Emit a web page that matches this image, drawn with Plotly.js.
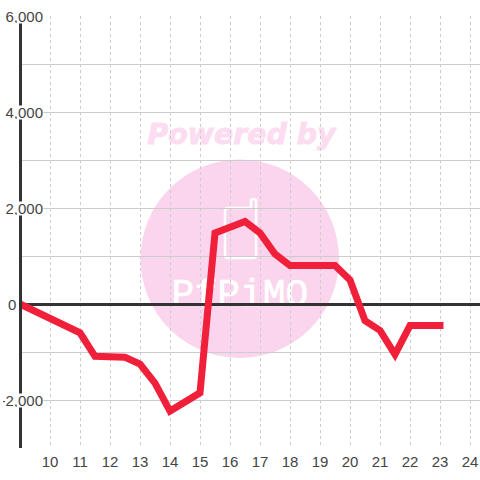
<!DOCTYPE html>
<html>
<head>
<meta charset="utf-8">
<script src="https://cdn.plot.ly/plotly-3.0.1.min.js"></script>
<style>
html,body{margin:0;padding:0;background:#fff;}
#chart{width:480px;height:480px;}
.js-line{stroke-linejoin:miter !important;stroke-linecap:square !important;stroke-miterlimit:3 !important;}
</style>
</head>
<body>
<div id="chart"></div>
<script>
var hours = [9,9.5,10,10.5,11,11.5,12,12.5,13,13.5,14,14.5,15,15.5,16,16.5,17,17.5,18,18.5,19,19.5,20,20.5,21,21.5,22,22.5,23];
var values = [0,-150,-300,-450,-600,-1090,-1110,-1110,-1250,-1650,-2230,-2050,-1850,1480,1600,1720,1480,1040,800,800,800,800,500,-350,-550,-1050,-450,-450,-450];
var xTicks = [10,11,12,13,14,15,16,17,18,19,20,21,22,23,24];
var yTicks = [-3000,-2000,-1000,0,1000,2000,3000,4000,5000,6000];
var yLabelValues = [6000,4000,2000,-2000];
var yLabelTexts = ['6,000','4,000','2,000','-2,000'];
var watermarkTop = 'Powered by';
var watermarkBottom = 'PfPiMO';

var L = 20, T = 16, W = 460, H = 432;
function px(v){ return (v - L) / W; }
function py(v){ return (T + H - v) / H; }
var textColor = '#444444';

var annotations = yLabelValues.map(function(v, i){
  return {
    x: 9, xref: 'x', y: v, yref: 'y', xanchor: 'right', yanchor: 'middle',
    xshift: 24, yshift: -0.5, width: 40, height: 13, align: 'right', valign: 'middle',
    text: yLabelTexts[i], showarrow: false, bgcolor: '#ffffff', borderpad: 0,
    font: {family: '"Liberation Sans", Arial, sans-serif', size: 15, color: textColor}
  };
});
annotations.push({
  x: 9, xref: 'x', y: 0, yref: 'y', xanchor: 'right', yanchor: 'middle',
  xshift: -3.5, yshift: -0.5, showarrow: false, text: '0', borderpad: 0,
  font: {family: '"Liberation Sans", Arial, sans-serif', size: 15, color: textColor}
});

var shapes = [
  {type: 'circle', layer: 'below', xref: 'paper', yref: 'paper',
   x0: px(140.5), x1: px(339), y0: py(358), y1: py(159.5),
   fillcolor: '#fbd5ed', line: {width: 0}},
  {type: 'path', layer: 'below', xref: 'paper', yref: 'paper',
   xsizemode: 'pixel', ysizemode: 'pixel', xanchor: px(240), yanchor: py(258),
   path: 'M -12 50 L 11 50 L 11 58 Q 14 60 16 58 L 16 3 Q 16 0 13 0 L -12 0 Q -15 0 -15 3 L -15 47 Q -15 50 -12 50 Z',
   fillcolor: 'rgba(0,0,0,0)', line: {color: '#ffffff', width: 2.5}},
  {type: 'rect', layer: 'below', xref: 'paper', yref: 'paper',
   x0: px(140), x1: px(343), y0: py(149), y1: py(115),
   fillcolor: 'rgba(0,0,0,0)', line: {width: 0},
   label: {text: watermarkTop, textposition: 'middle center',
     font: {family: '"DejaVu Sans"', size: 28.4, weight: 'bold', style: 'italic', color: '#fcdcf0'}}},
  {type: 'rect', layer: 'below', xref: 'paper', yref: 'paper',
   x0: px(140), x1: px(340), y0: py(310), y1: py(268),
   fillcolor: 'rgba(0,0,0,0)', line: {width: 0},
   label: {text: watermarkBottom, textposition: 'middle center',
     font: {family: '"Liberation Mono"', size: 38, color: '#ffffff'}}},
  {type: 'line', layer: 'above', xref: 'paper', yref: 'paper',
   x0: px(20.5), x1: px(20.5), y0: 0, y1: 1,
   line: {color: '#333333', width: 3}}
];

var trace = {
  type: 'scatter', mode: 'lines', x: hours, y: values, cliponaxis: false,
  hoverinfo: 'skip',
  line: {color: '#f1203a', width: 7}
};

var layout = {
  width: 480, height: 480,
  margin: {l: L, r: 0, t: T, b: 32, pad: 0},
  paper_bgcolor: '#ffffff', plot_bgcolor: 'rgba(0,0,0,0)',
  showlegend: false,
  xaxis: {
    range: [9, 9 + W / 30], tickmode: 'array', tickvals: xTicks, ticktext: xTicks.map(String),
    ticks: '', showgrid: true, gridcolor: '#cccccc', gridwidth: 1, griddash: '3px,3px',
    showline: false, zeroline: false, fixedrange: true, ticklabelstandoff: 3,
    tickfont: {family: '"Liberation Sans", Arial, sans-serif', size: 15, color: textColor}
  },
  yaxis: {
    range: [-3000, 6000], tickmode: 'array', tickvals: yTicks, showticklabels: false,
    ticks: '', showgrid: true, gridcolor: '#cccccc', gridwidth: 1,
    showline: false,
    zeroline: true, zerolinecolor: '#333333', zerolinewidth: 3, fixedrange: true
  },
  shapes: shapes,
  annotations: annotations
};

Plotly.newPlot('chart', [trace], layout, {displayModeBar: false, responsive: false, staticPlot: true}).then(function(){
  document.querySelectorAll('#chart text').forEach(function(t){
    if (t.textContent === watermarkTop) { t.style.stroke = '#fcdcf0'; t.style.strokeWidth = '0.9px'; }
    if (t.textContent === watermarkBottom) { t.style.stroke = '#ffffff'; t.style.strokeWidth = '0.6px'; }
  });
});
</script>
</body>
</html>
